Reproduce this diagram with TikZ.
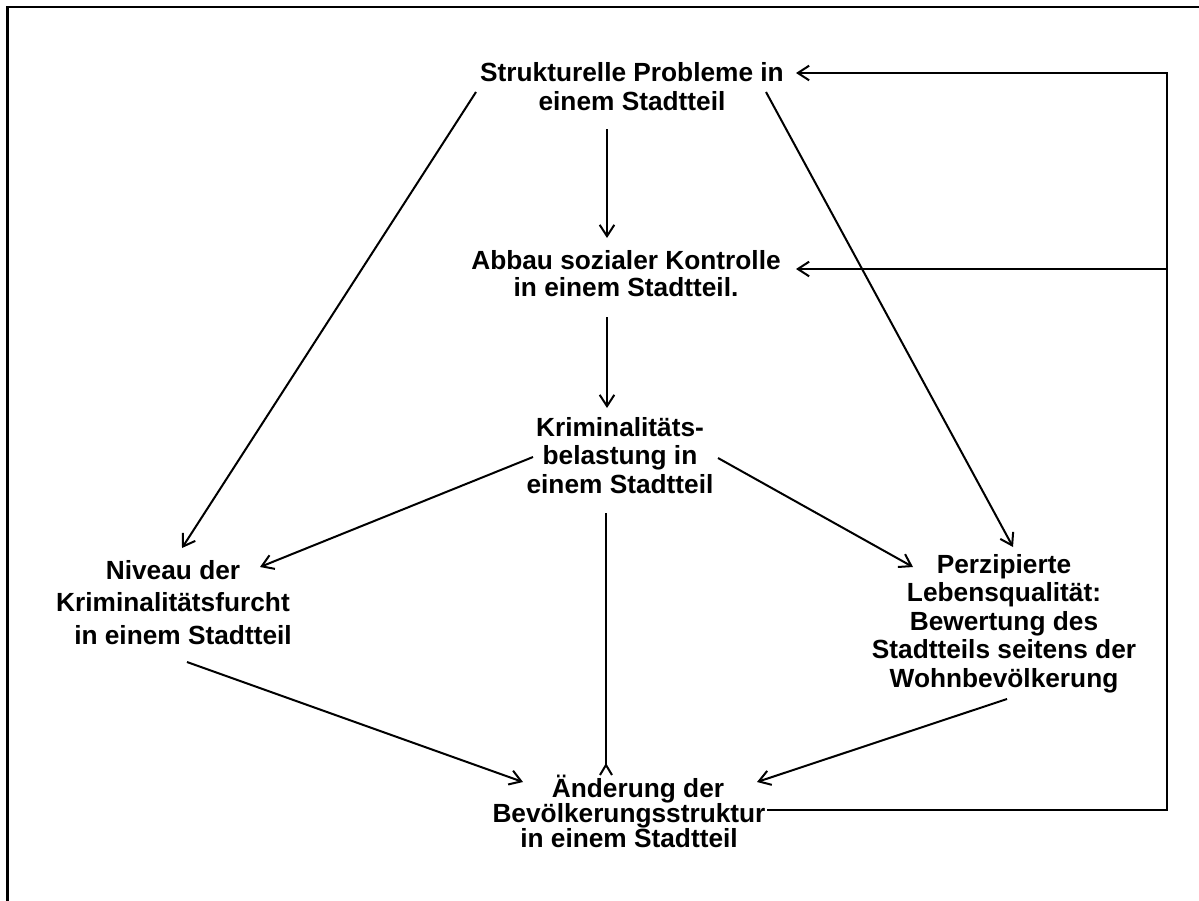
\documentclass[tikz,border=0pt]{standalone}
\usepackage{fontspec}
\setmainfont{Liberation Sans}
\usetikzlibrary{arrows.meta}
\newcommand\lns[2]{\vtop{\baselineskip=#1\lineskiplimit=-100pt\halign{\hfil##\hfil\cr#2\crcr}}}
\begin{document}
\begin{tikzpicture}[x=0.75pt,y=-0.75pt,
  lbl/.style={inner sep=0pt, anchor=base, font=\fontsize{19.7pt}{22pt}\selectfont\bfseries},
  plain/.style={line width=1.5pt},
  conn/.style={plain, -{Straight Barb[length=8.5pt,width=11pt]}},
  frame/.style={line width=1.9pt}]
\useasboundingbox (0,0) rectangle (1199,900);
\fill[white] (0,0) rectangle (1199,900);
\draw[frame] (7.5,910) -- (7.5,7) -- (1210,7);
\node[lbl] (s) at (632,81) {\lns{22pt}{Strukturelle Probleme in\cr einem Stadtteil}};
\node[lbl] (a) at (626,269) {\lns{20.5pt}{Abbau sozialer Kontrolle\cr in einem Stadtteil.}};
\node[lbl] (k) at (620,436) {\lns{21.5pt}{Kriminalitäts-\cr belastung in\cr einem Stadtteil}};
\node[lbl] (n) at (173,579) {\lns{24.4pt}{Niveau der\cr Kriminalitätsfurcht\cr \kern15pt in einem Stadtteil}};
\node[lbl] (p) at (1004,573) {\lns{21.4pt}{Perzipierte\cr Lebensqualität:\cr Bewertung des\cr Stadtteils seitens der\cr Wohnbevölkerung}};
\node[lbl] (ae) at (629,797) {\lns{18.75pt}{\kern13.5pt Änderung der\cr Bevölkerungsstruktur\cr in einem Stadtteil}};
\draw[conn] ([shift={(-25,48)}]s.base) -- ([shift={(-19,-31)}]a.base);
\draw[conn] ([shift={(-19,48)}]a.base) -- ([shift={(-13,-28)}]k.base);
\draw[conn] ([shift={(-156,11)}]s.base) -- ([shift={(9,-31)}]n.base);
\draw[conn] ([shift={(134,11)}]s.base) -- ([shift={(9,-26)}]p.base);
\draw[conn] ([shift={(-87,21)}]k.base) -- ([shift={(87,-12)}]n.base);
\draw[conn] ([shift={(98,22)}]k.base) -- ([shift={(-91,-6)}]p.base);
\coordinate (apex) at ([shift={(-23,-32)}]ae.base);
\draw[plain] ([shift={(-14,77)}]k.base) -- (apex);
\draw[plain] ([shift={(-6,10)}]apex) -- (apex) -- ([shift={(6,10)}]apex);
\draw[conn] ([shift={(14,83)}]n.base) -- ([shift={(-106,-15)}]ae.base);
\draw[conn] ([shift={(3,126)}]p.base) -- ([shift={(128,-15)}]ae.base);
\draw[conn] ([shift={(138,13)}]ae.base) -| ([shift={(535,-8)}]s.base) -- ([shift={(164,-8)}]s.base);
\draw[conn] ([shift={(541,0)}]a.base) -- ([shift={(170,0)}]a.base);
\end{tikzpicture}
\end{document}
